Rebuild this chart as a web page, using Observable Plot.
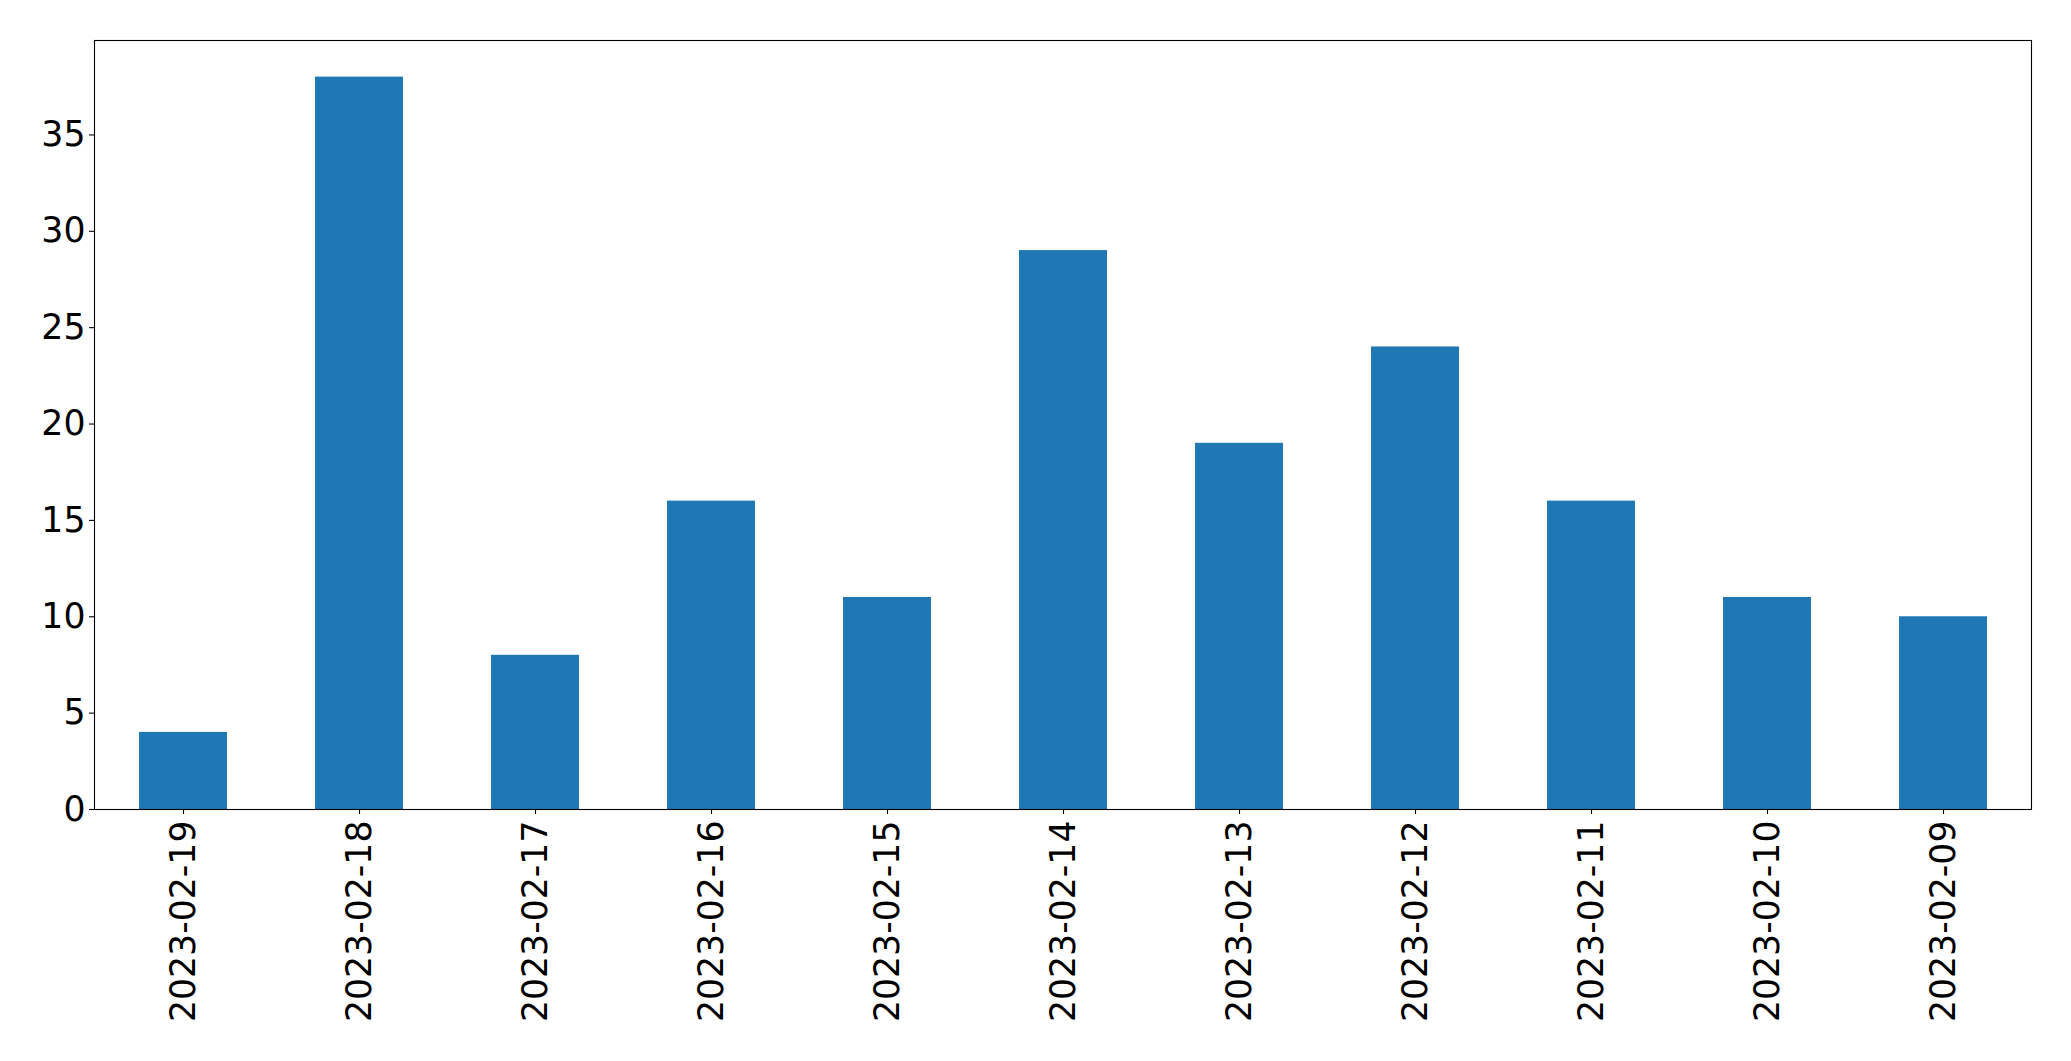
<!DOCTYPE html>
<html>
<head>
<meta charset="utf-8">
<script src="https://cdn.jsdelivr.net/npm/d3@7"></script>
<script src="https://cdn.jsdelivr.net/npm/@observablehq/plot@0.6"></script>
<style>
html, body { margin: 0; padding: 0; background: #fff; }
#chart svg { display: block; }
</style>
</head>
<body>
<div id="chart"></div>
<script>
const dates = ["2023-02-19","2023-02-18","2023-02-17","2023-02-16","2023-02-15","2023-02-14","2023-02-13","2023-02-12","2023-02-11","2023-02-10","2023-02-09"];
const counts = [4, 38, 8, 16, 11, 29, 19, 24, 16, 11, 10];
const yTicks = [0, 5, 10, 15, 20, 25, 30, 35];

const data = dates.map((d, i) => ({date: d, count: counts[i]}));

const W = 2071, H = 1061;
const mL = 94, mR = 40, mT = 40, mB = 252;

const chart = Plot.plot({
  width: W,
  height: H,
  marginLeft: mL,
  marginRight: mR,
  marginTop: mT,
  marginBottom: mB,
  style: {fontFamily: "'DejaVu Sans', sans-serif", background: "#fff", color: "#000"},
  x: {domain: dates, paddingInner: 0.5, paddingOuter: 0.25, align: 0.5},
  y: {domain: [0, 39.9]},
  marks: [
    Plot.barY(data, {x: "date", y: "count", fill: "#1f77b4"}),
    Plot.frame({stroke: "#000", strokeWidth: 1.1}),
    Plot.axisY({ticks: yTicks, tickSize: 5, tickPadding: 4, fontSize: 34.7, label: null, stroke: "#000", strokeWidth: 1.1}),
    Plot.axisX({tickSize: 5, tickPadding: 6, tickRotate: -90, fontSize: 34.7, label: null, stroke: "#000", strokeWidth: 1.1})
  ]
});
document.getElementById("chart").appendChild(chart);
</script>
</body>
</html>
